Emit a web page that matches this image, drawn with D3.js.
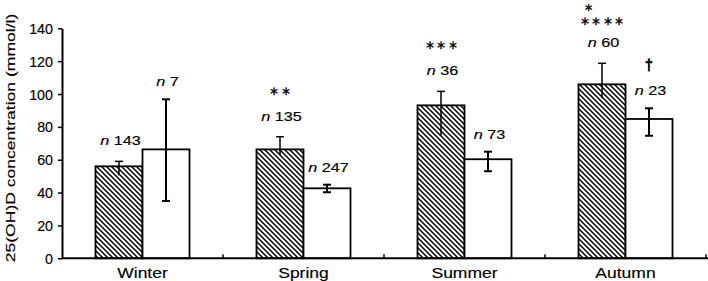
<!DOCTYPE html>
<html><head><meta charset="utf-8">
<script src="https://cdn.jsdelivr.net/npm/d3@7"></script>
<style>
body{margin:0;background:#fff;}
svg{display:block;}
text{font-family:"Liberation Sans",Arial,Helvetica,sans-serif;fill:#000;stroke:#000;stroke-width:0.15px;}
text.mark{stroke:#000;stroke-width:0.3px;}
text.dagger{stroke:#000;stroke-width:0.8px;}
</style></head>
<body>
<svg id="chart" width="708" height="281"></svg>
<script>
const categories = ["Winter", "Spring", "Summer", "Autumn"];
const hatchedMean  = [56, 66.3, 93.1, 105.9];
const hatchedUpper = [59, 74, 101.6, 118.7];
const hatchedLower = [50.6, 62.8, 74.9, 97.4];
const whiteMean    = [66.3, 42.6, 60.3, 84.8];
const whiteUpper   = [96.8, 44.8, 64.9, 91.3];
const whiteLower   = [34.9, 40.2, 53, 74.6];
const hatchedN     = ["143", "135", "36", "60"];
const whiteN       = ["7", "247", "73", "23"];
const hatchedStars = [[], ["**"], ["***"], ["*", "****"]];
const whiteMarks   = ["", "", "", "†"];
const yTicks       = [0, 20, 40, 60, 80, 100, 120, 140];
const yLabel       = "25(OH)D concentration (mmol/l)";

const svg = d3.select("#chart");
const y = d3.scaleLinear().domain([0, 140]).range([258.3, 28.3]);
const x = d3.scaleBand().domain(categories).range([62, 706]).paddingInner(0).paddingOuter(0);
const x1 = d3.scaleBand().domain([0, 1]).range([33.5, 127.5]).padding(0);

// hatch pattern
const defs = svg.append("defs");
const pat = defs.append("pattern").attr("id", "hatch").attr("patternUnits", "userSpaceOnUse")
  .attr("width", 5).attr("height", 5);
pat.append("rect").attr("width", 5).attr("height", 5).attr("fill", "#fff");
pat.append("path").attr("d", "M0,0 L5,5 M-1,4 L1,6 M4,-1 L6,1")
  .attr("stroke", "#000").attr("stroke-width", 1.5);

const series = [
  {mean: hatchedMean, up: hatchedUpper, lo: hatchedLower, fill: "url(#hatch)", n: hatchedN, k: 0},
  {mean: whiteMean, up: whiteUpper, lo: whiteLower, fill: "#fff", n: whiteN, k: 1}
];

function stretchText(g, px, py, size, sx, anchor) {
  return g.append("g").attr("transform", `translate(${px},${py}) scale(${sx},1)`)
    .append("text").attr("font-size", size).attr("text-anchor", anchor || "middle");
}

// bars
series.forEach(s => {
  categories.forEach((c, i) => {
    const bx = x(c) + x1(s.k);
    svg.append("rect").attr("x", bx).attr("y", y(s.mean[i]))
      .attr("width", x1.bandwidth()).attr("height", y(0) - y(s.mean[i]))
      .attr("fill", s.fill).attr("stroke", "#000").attr("stroke-width", 1.8);
  });
});
// error bars
series.forEach(s => {
  categories.forEach((c, i) => {
    const cx = x(c) + x1(s.k) + x1.bandwidth() / 2;
    const g = svg.append("g").attr("stroke", "#000").attr("stroke-width", s.k ? 2 : 1.5);
    g.append("line").attr("x1", cx).attr("x2", cx).attr("y1", y(s.up[i])).attr("y2", y(s.lo[i]));
    g.append("line").attr("x1", cx - 4).attr("x2", cx + 4).attr("y1", y(s.up[i])).attr("y2", y(s.up[i]));
    if (s.k) g.append("line").attr("x1", cx - 4).attr("x2", cx + 4).attr("y1", y(s.lo[i])).attr("y2", y(s.lo[i]));
  });
});
// n labels and significance marks
series.forEach(s => {
  categories.forEach((c, i) => {
    const cx = x(c) + x1(s.k) + x1.bandwidth() / 2;
    const base = y(s.up[i]) - (s.k ? 13 : 16);
    const t = stretchText(svg, cx + 1.5, base, 12.5, 1.3);
    t.append("tspan").attr("font-style", "italic").text("n");
    t.append("tspan").text(" " + s.n[i]);
    const marks = s.k ? (whiteMarks[i] ? [whiteMarks[i]] : []) : hatchedStars[i];
    marks.slice().reverse().forEach((m, j) => {
      let my = base - (marks.length > 1 ? 26 : 30) - j * 16;
      const dx = (m === "*" && marks.length > 1) ? -14 : 0;
      if (m === "†") {
        stretchText(svg, cx, my, 14, 1.0).attr("dominant-baseline", "central")
          .attr("class", "dagger").text(m);
      } else {
        const fs = (j > 0) ? 10.5 : 12;
        my = Math.max(my, fs * 0.62);
        stretchText(svg, cx + dx + 0.75, my, fs, 1.0).attr("font-family", "DejaVu Sans")
          .attr("class", "mark")
          .attr("dominant-baseline", "central").attr("letter-spacing", 1.5)
          .text(m.replace(/\*/g, "\u2217"));
      }
    });
  });
});

// y axis
const yAxis = svg.append("g").attr("transform", `translate(62,0)`)
  .call(d3.axisLeft(y).tickValues(yTicks).tickSize(4).tickSizeOuter(0).tickPadding(5));
yAxis.select(".domain").attr("stroke-width", 2);
yAxis.selectAll(".tick line").attr("stroke-width", 1.5);
yAxis.selectAll(".tick text").attr("font-size", 14).attr("font-family", null)
  .attr("x", null).attr("dy", "0.36em").attr("transform", "translate(-9,0) scale(1.02,1)").attr("fill", "#000");

// x axis
const xAxis = svg.append("g").attr("transform", `translate(0,${y(0)})`)
  .call(d3.axisBottom(x).tickSize(0).tickSizeOuter(0).tickPadding(0));
xAxis.select(".domain").attr("stroke-width", 2).attr("d", `M62,0H708`);
xAxis.selectAll(".tick text").attr("font-size", 14).attr("font-family", null)
  .attr("y", null).attr("dy", null).attr("transform", "translate(0,20) scale(1.25,1)").attr("fill", "#000");
svg.append("g").selectAll("line").data(categories).join("line")
  .attr("x1", c => x(c) + x.bandwidth()).attr("x2", c => x(c) + x.bandwidth())
  .attr("y1", y(0)).attr("y2", y(0) - 4).attr("stroke", "#000").attr("stroke-width", 1.5);

// y label
svg.append("g").attr("transform", `translate(15,138) rotate(-90) scale(1.35,1)`)
  .append("text").attr("font-size", 13).attr("text-anchor", "middle").text(yLabel);
</script>
</body></html>
